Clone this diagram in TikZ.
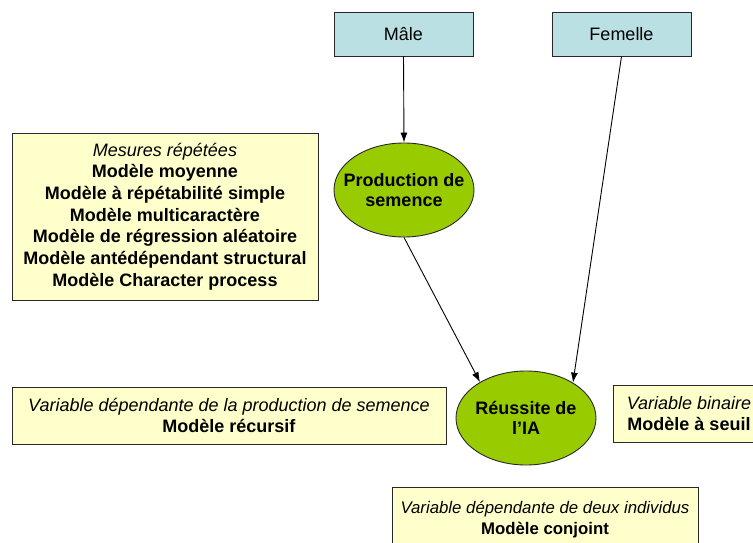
\documentclass[tikz,border=0pt]{standalone}
\usepackage{fontspec}
\setmainfont{Liberation Sans}
\usetikzlibrary{shapes.geometric,arrows.meta}
\definecolor{boxyellow}{RGB}{255,255,204}
\definecolor{boxblue}{RGB}{187,224,227}
\definecolor{ellgreen}{RGB}{153,204,0}
\definecolor{edgecol}{RGB}{40,40,40}
\begin{document}
\begin{tikzpicture}[x=1pt,y=-1pt,
  every node/.style={font=\fontsize{18}{21.7}\selectfont},
  bluebox/.style={draw=edgecol, fill=boxblue, line width=0.9pt, minimum width=139pt, minimum height=44pt, inner sep=0pt},
  yelbox/.style={draw=edgecol, fill=boxyellow, line width=0.9pt, align=center, inner sep=0pt},
  ell/.style={ellipse, draw=edgecol, fill=ellgreen, line width=0.9pt, minimum width=140pt, minimum height=94pt, inner sep=0pt},
  ellbl/.style={align=center, font=\fontsize{18}{20.5}\selectfont\bfseries, inner sep=0pt},
  arr/.style={-{Latex[length=10pt,width=7pt]}, line width=0.9pt}]
\useasboundingbox (0,0) rectangle (753,543);
\clip (0,0) rectangle (753,543);

\node[bluebox] (male) at (403.5,34) {Mâle};
\node[bluebox] (fem) at (621.5,34) {Femelle};

\node[yelbox, minimum width=306pt, minimum height=167pt] (mes) at (165,216.5)
  {\textit{Mesures répétées}\\ \textbf{Modèle moyenne}\\ \textbf{Modèle à répétabilité simple}\\ \textbf{Modèle multicaractère}\\ \textbf{Modèle de régression aléatoire}\\ \textbf{Modèle antédépendant structural}\\ \textbf{Modèle Character process}};

\node[ell, label={[ellbl]center:Production de\\semence}] (prod) at (404,190) {};
\node[ell, label={[ellbl]center:Réussite de\\l’IA}] (reu) at (526,418) {};

\node[yelbox, minimum width=434pt, minimum height=57pt] (rec) at (229,415.5)
  {\textit{Variable dépendante de la production de semence}\\ \textbf{Modèle récursif}};
\node[yelbox, minimum width=152pt, minimum height=57pt] (seuil) at (689,413.5)
  {\textit{Variable binaire}\\ \textbf{Modèle à seuil}};
\node[yelbox, minimum width=306pt, minimum height=66pt, font=\fontsize{16.8}{21}\selectfont] (conj) at (545,520)
  {\textit{Variable dépendante de deux individus}\\ \textbf{Modèle conjoint}};

\draw[arr] (male.south) -- (prod.north);
\draw[arr] (prod.south) -- (reu.142);
\draw[arr] (fem.south) -- (reu.37);
\end{tikzpicture}
\end{document}
